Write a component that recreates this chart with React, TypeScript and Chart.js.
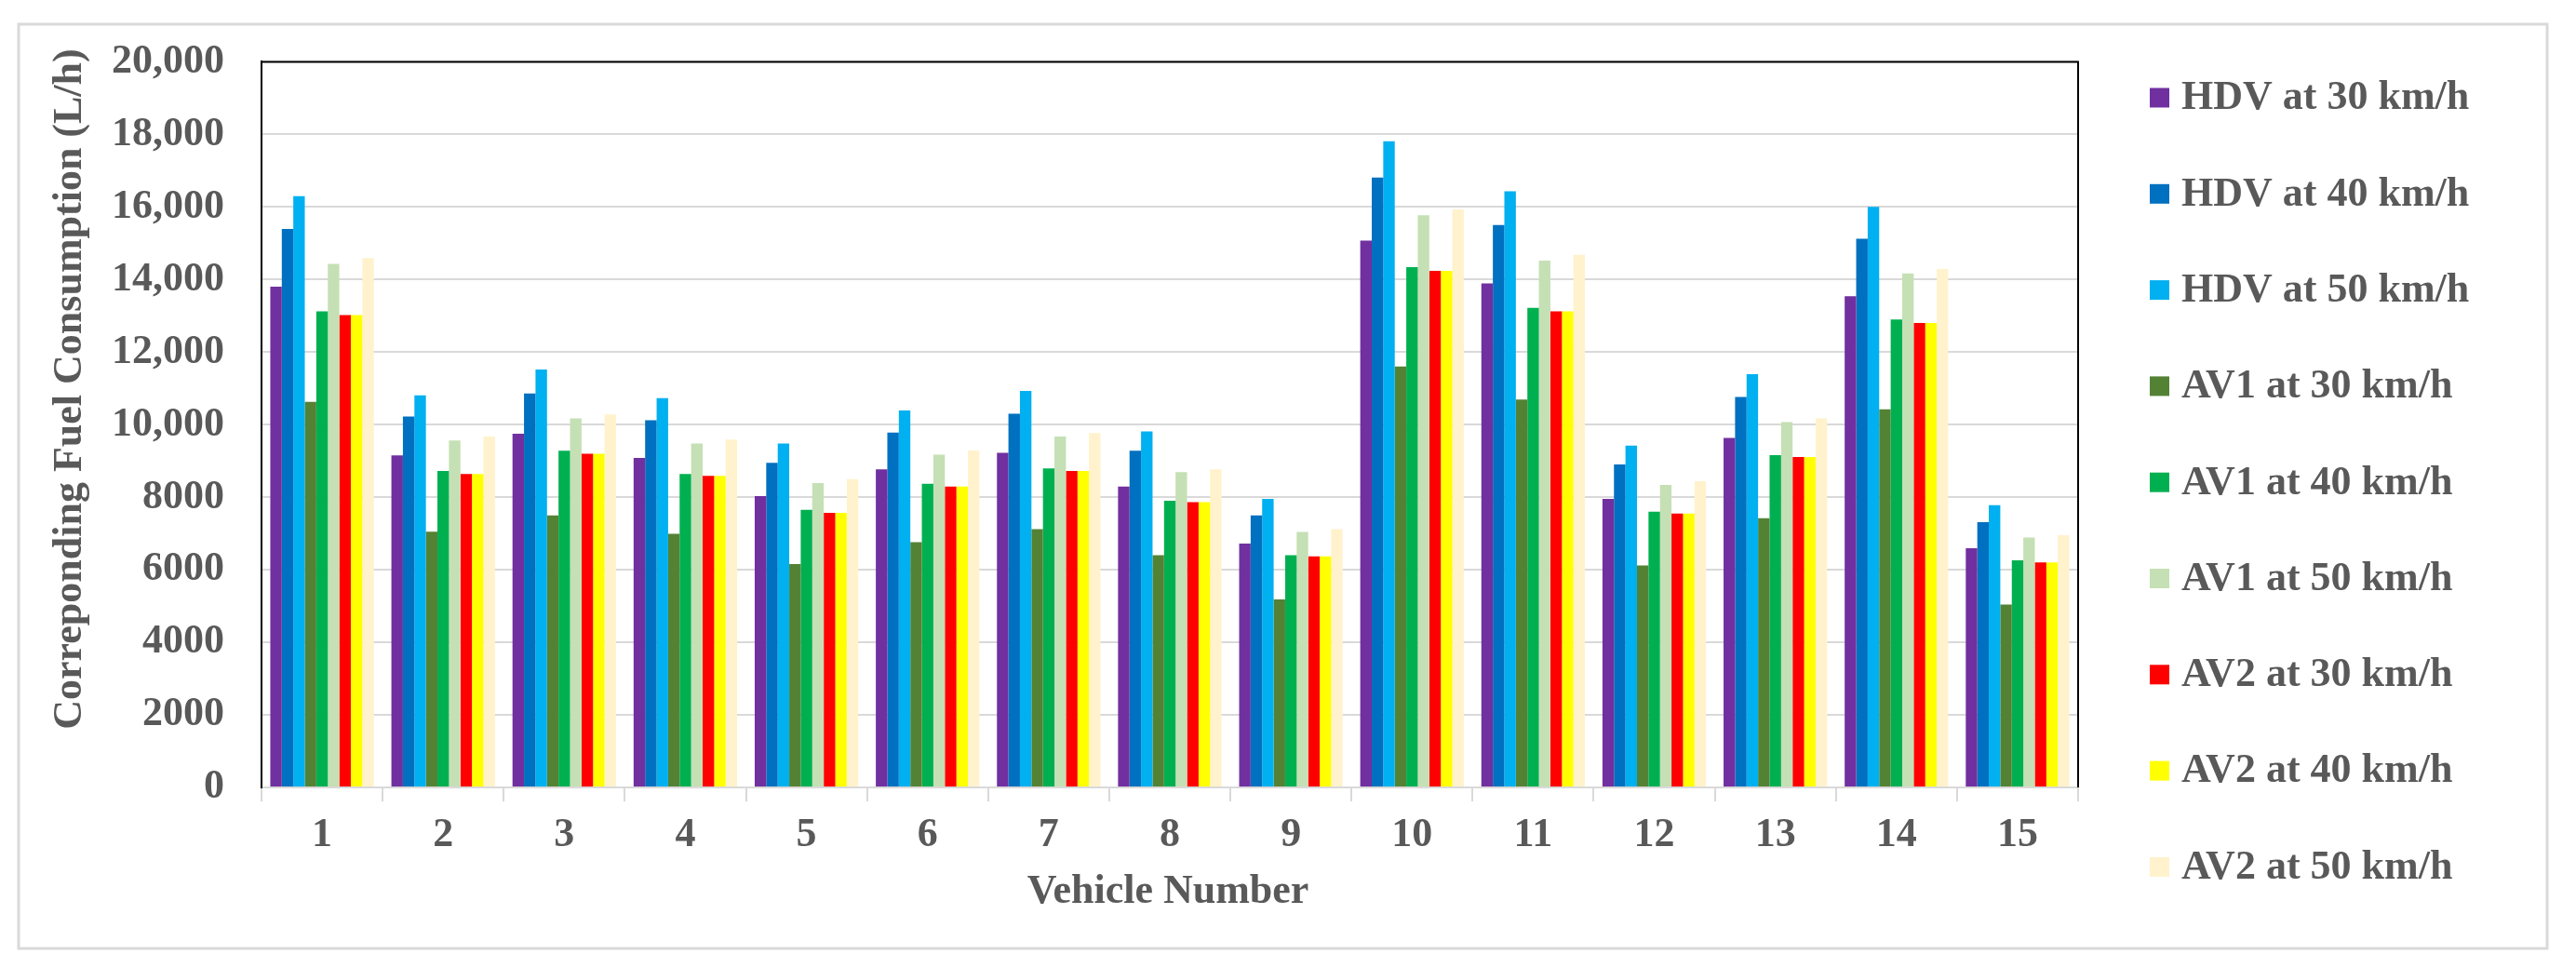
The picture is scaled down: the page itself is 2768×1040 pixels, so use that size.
import React, { useEffect, useRef } from "react";
import { Chart, registerables } from "chart.js";

Chart.register(...registerables);

const categories = ["1", "2", "3", "4", "5", "6", "7", "8", "9", "10", "11", "12", "13", "14", "15"];

const seriesLabels = [
  "HDV at 30 km/h",
  "HDV at 40 km/h",
  "HDV at 50 km/h",
  "AV1 at 30 km/h",
  "AV1 at 40 km/h",
  "AV1 at 50 km/h",
  "AV2 at 30 km/h",
  "AV2 at 40 km/h",
  "AV2 at 50 km/h",
];

const seriesColors = ["#7030A0", "#0070C0", "#00B0F0", "#548235", "#00B050", "#C5E0B4", "#FF0000", "#FFFF00", "#FFF2CC"];

const hdv30 = [13800, 9150, 9750, 9080, 8030, 8770, 9220, 8290, 6720, 15070, 13890, 7950, 9630, 13540, 6590];
const hdv40 = [15390, 10220, 10860, 10120, 8950, 9780, 10300, 9280, 7500, 16810, 15500, 8900, 10760, 15120, 7310];
const hdv50 = [16300, 10810, 11520, 10730, 9480, 10390, 10930, 9810, 7950, 17810, 16430, 9420, 11390, 16000, 7780];
const av1at30 = [10630, 7050, 7500, 6990, 6160, 6760, 7120, 6400, 5180, 11600, 10690, 6120, 7420, 10420, 5040];
const av1at40 = [13120, 8720, 9280, 8640, 7650, 8370, 8790, 7900, 6400, 14340, 13220, 7600, 9160, 12900, 6260];
const av1at50 = [14430, 9560, 10170, 9480, 8390, 9170, 9670, 8690, 7040, 15770, 14520, 8340, 10070, 14170, 6890];
const av2at30 = [13020, 8640, 9200, 8590, 7570, 8290, 8720, 7860, 6370, 14240, 13120, 7550, 9110, 12800, 6200];
const av2at40 = [13020, 8640, 9200, 8590, 7570, 8290, 8720, 7860, 6370, 14240, 13120, 7550, 9110, 12800, 6200];
const av2at50 = [14590, 9670, 10280, 9590, 8500, 9290, 9770, 8770, 7120, 15930, 14680, 8440, 10170, 14290, 6950];

const yTickLabels = ["0", "2000", "4000", "6000", "8000", "10,000", "12,000", "14,000", "16,000", "18,000", "20,000"];

const yTitle = "Correponding Fuel Consumption (L/h)";
const xTitle = "Vehicle Number";

const FONT = "'Liberation Serif', 'Times New Roman', serif";
const TEXT = "#595959";

export default function App() {
  const ref = useRef<HTMLCanvasElement | null>(null);

  useEffect(() => {
    const canvas = ref.current;
    if (!canvas) return;
    const values = [hdv30, hdv40, hdv50, av1at30, av1at40, av1at50, av2at30, av2at40, av2at50];

    const decor = {
      id: "decor",
      beforeDraw(chart: any) {
        const ctx = chart.ctx;
        ctx.save();
        ctx.fillStyle = "#ffffff";
        ctx.fillRect(0, 0, chart.width, chart.height);
        ctx.strokeStyle = "#d9d9d9";
        ctx.lineWidth = 3;
        ctx.strokeRect(20, 26, 2717, 993);
        ctx.restore();
      },
      afterDraw(chart: any) {
        const ctx = chart.ctx;
        const a = chart.chartArea;
        ctx.save();
        // plot frame (top and right)
        ctx.strokeStyle = "#000000";
        ctx.lineWidth = 2;
        ctx.beginPath();
        ctx.moveTo(a.left, a.top);
        ctx.lineTo(a.right, a.top);
        ctx.lineTo(a.right, a.bottom);
        ctx.stroke();
        // y title
        ctx.fillStyle = TEXT;
        ctx.font = `bold 44px ${FONT}`;
        ctx.textAlign = "center";
        ctx.textBaseline = "middle";
        ctx.save();
        ctx.translate(76, 418);
        ctx.rotate(-Math.PI / 2);
        ctx.fillText(yTitle, 0, 0);
        ctx.restore();
        // x title
        ctx.fillText(xTitle, 1255, 959);
        // legend
        ctx.textAlign = "left";
        chart.data.datasets.forEach((ds: any, i: number) => {
          const cy = 105 + i * 103.3;
          ctx.fillStyle = ds.backgroundColor;
          ctx.fillRect(2310, cy - 10.5, 21, 21);
          ctx.fillStyle = TEXT;
          ctx.fillText(ds.label, 2344, cy + 1);
        });
        ctx.restore();
      },
    };

    const chart = new Chart(canvas, {
      type: "bar",
      data: {
        labels: categories,
        datasets: seriesLabels.map((label, i) => ({
          label,
          data: values[i],
          backgroundColor: seriesColors[i],
          borderWidth: 0,
          categoryPercentage: 0.855,
          barPercentage: 1.0,
        })),
      },
      options: {
        animation: false,
        responsive: true,
        maintainAspectRatio: false,
        devicePixelRatio: 1,
        layout: { padding: { left: 0, top: 62, right: 535, bottom: 0 } },
        plugins: {
          legend: { display: false },
          tooltip: { enabled: false },
        },
        scales: {
          x: {
            grid: {
              drawOnChartArea: false,
              drawTicks: true,
              tickLength: 15,
              color: "#d9d9d9",
              lineWidth: 2,
              offset: true,
            },
            border: { color: "#d9d9d9", width: 2 },
            ticks: {
              color: TEXT,
              font: { family: FONT, size: 44, weight: "bold" },
              padding: 10,
              maxRotation: 0,
            },
            afterFit(scale: any) {
              scale.height = 194;
            },
          },
          y: {
            min: 0,
            max: 20000,
            ticks: {
              stepSize: 2000,
              color: TEXT,
              font: { family: FONT, size: 44, weight: "bold" },
              padding: 40,
              callback: (_v: any, i: number) => yTickLabels[i],
            },
            grid: { color: "#d9d9d9", lineWidth: 2, drawTicks: false },
            border: { color: "#000000", width: 2 },
            afterFit(scale: any) {
              scale.width = 281;
            },
          },
        },
      },
      plugins: [decor],
    } as any);

    return () => chart.destroy();
  }, []);

  return (
    <div style={{ position: "fixed", left: 0, top: 0, width: 2768, height: 1040, background: "#fff" }}>
      <canvas ref={ref} style={{ width: "100%", height: "100%" }} />
    </div>
  );
}
